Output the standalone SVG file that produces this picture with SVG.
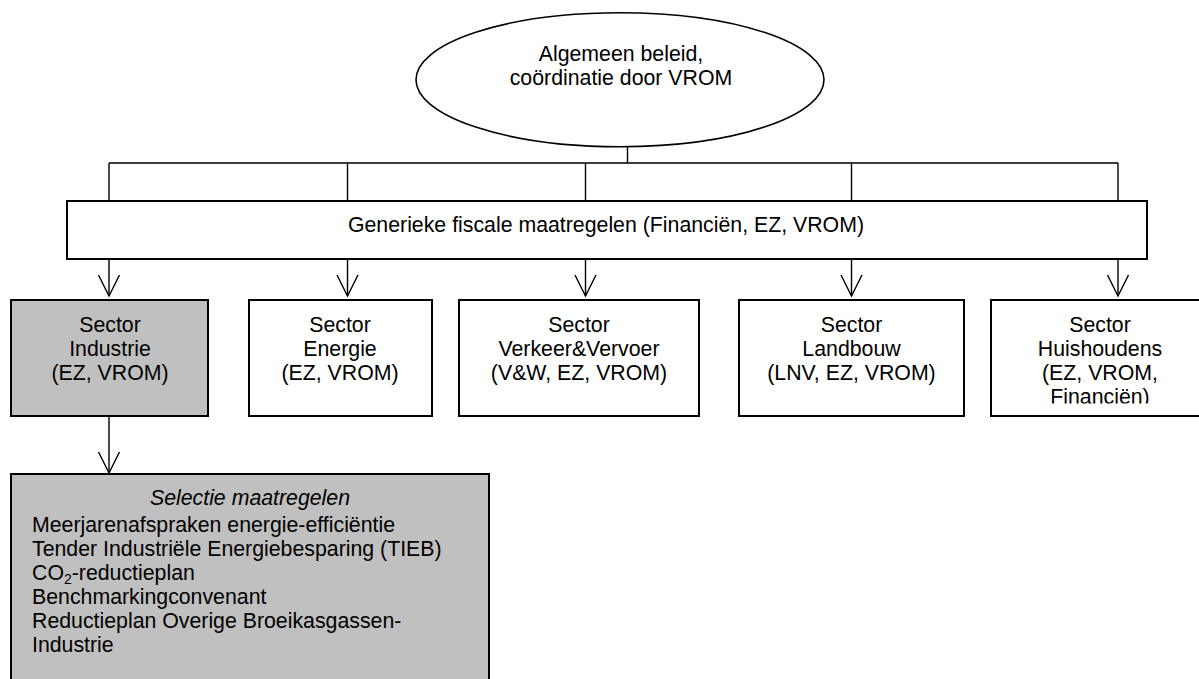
<svg xmlns="http://www.w3.org/2000/svg" width="1199" height="679" viewBox="0 0 1199 679">
<style>
  text { font-family: "Liberation Sans", Arial, sans-serif; font-size: 21.3px; fill: #000; }
  .c { text-anchor: middle; }
  .box { stroke: #000; stroke-width: 2; }
  .white { fill: #fff; }
  .grey { fill: #c0c0c0; }
  .conn { fill: none; stroke: #000; stroke-width: 1.4; }
</style>
<defs>
  <marker id="arr" markerUnits="userSpaceOnUse" markerWidth="30" markerHeight="30" refX="0" refY="0" orient="auto" overflow="visible">
    <path d="M -21,-10.5 L 0,0 L -21,10.5" fill="none" stroke="#000" stroke-width="1.4"/>
  </marker>
  <clipPath id="clip5"><rect x="991" y="300" width="220" height="103.5"/></clipPath>
</defs>
<rect width="1199" height="679" fill="#fff"/>

<g id="connectors">
  <path class="conn" d="M627.5,146.5 V163 M109,163 H1118 M109,163 V201 M347.5,163 V201 M585.5,163 V201 M851.5,163 V201 M1118,163 V201"/>
  <path class="conn" d="M109,259 V296" marker-end="url(#arr)"/>
  <path class="conn" d="M347.5,259 V296" marker-end="url(#arr)"/>
  <path class="conn" d="M585.5,259 V296" marker-end="url(#arr)"/>
  <path class="conn" d="M851.5,259 V296" marker-end="url(#arr)"/>
  <path class="conn" d="M1118,259 V296" marker-end="url(#arr)"/>
  <path class="conn" d="M109,416 V473" marker-end="url(#arr)"/>
</g>

<g id="beleid">
  <ellipse cx="620" cy="79.7" rx="204" ry="67" fill="#fff" stroke="#000" stroke-width="1.6"/>
  <text class="c" x="621" y="61">Algemeen beleid,</text>
  <text class="c" x="621" y="85">coördinatie door VROM</text>
</g>

<g id="fiscaal">
  <rect class="box white" x="67" y="201" width="1080" height="58"/>
  <text class="c" x="606" y="232">Generieke fiscale maatregelen (Financiën, EZ, VROM)</text>
</g>

<g id="industrie">
  <rect class="box grey" x="11" y="300" width="197" height="116"/>
  <text class="c" x="110" y="332">Sector</text>
  <text class="c" x="110" y="356">Industrie</text>
  <text class="c" x="110" y="380">(EZ, VROM)</text>
</g>

<g id="energie">
  <rect class="box white" x="249" y="300" width="183" height="116"/>
  <text class="c" x="340" y="332">Sector</text>
  <text class="c" x="340" y="356">Energie</text>
  <text class="c" x="340" y="380">(EZ, VROM)</text>
</g>

<g id="verkeer">
  <rect class="box white" x="459" y="300" width="240" height="116"/>
  <text class="c" x="579" y="332">Sector</text>
  <text class="c" x="579" y="356">Verkeer&amp;Vervoer</text>
  <text class="c" x="579" y="380">(V&amp;W, EZ, VROM)</text>
</g>

<g id="landbouw">
  <rect class="box white" x="739" y="300" width="225" height="116"/>
  <text class="c" x="851.5" y="332">Sector</text>
  <text class="c" x="851.5" y="356">Landbouw</text>
  <text class="c" x="851.5" y="380">(LNV, EZ, VROM)</text>
</g>

<g id="huishoudens">
  <rect class="box white" x="991" y="300" width="220" height="116"/>
  <g clip-path="url(#clip5)">
    <text class="c" x="1100" y="332">Sector</text>
    <text class="c" x="1100" y="356">Huishoudens</text>
    <text class="c" x="1100" y="380">(EZ, VROM,</text>
    <text class="c" x="1100" y="404">Financiën)</text>
  </g>
</g>

<g id="maatregelen">
  <rect class="box grey" x="11" y="474" width="478" height="215"/>
  <text class="c" x="250" y="504.5" font-style="italic">Selectie maatregelen</text>
  <text x="32" y="532">Meerjarenafspraken energie-efficiëntie</text>
  <text x="32" y="556">Tender Industriële Energiebesparing (TIEB)</text>
  <text x="32" y="580">CO<tspan font-size="14" dy="4">2</tspan><tspan dy="-4">-reductieplan</tspan></text>
  <text x="32" y="604">Benchmarkingconvenant</text>
  <text x="32" y="628">Reductieplan Overige Broeikasgassen-</text>
  <text x="32" y="652">Industrie</text>
</g>
</svg>
